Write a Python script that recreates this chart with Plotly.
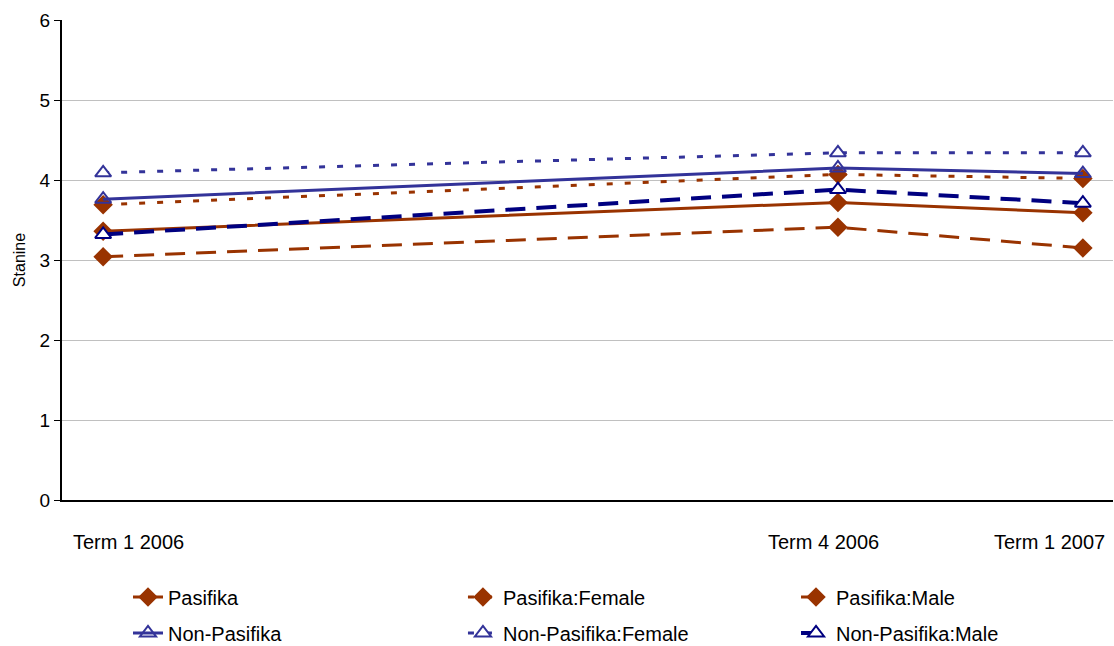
import plotly.graph_objects as go

terms = ["Term 1 2006", "Term 4 2006", "Term 1 2007"]
term_pos = [0, 3, 4]  # terms elapsed since Term 1 2006

pasifika = [3.36, 3.72, 3.59]
pasifika_female = [3.69, 4.07, 4.02]
pasifika_male = [3.04, 3.41, 3.15]
non_pasifika = [3.76, 4.15, 4.08]
non_pasifika_female = [4.09, 4.34, 4.34]
non_pasifika_male = [3.32, 3.88, 3.71]

BROWN = "#993300"
PURPLE = "#333399"
NAVY = "#000080"
FONT = "Liberation Sans, Arial, sans-serif"

fig = go.Figure()

def add(name, vals, color, dash, symbol, width, legend, mfill=None):
    if symbol.startswith("diamond"):
        marker = dict(symbol="diamond", size=15, color=color, line=dict(width=0))
    else:
        marker = dict(symbol=symbol, size=14, color=(mfill if mfill else color),
                      line=dict(width=2, color=color))
    fig.add_trace(go.Scatter(
        x=term_pos, y=vals, name=name, mode="lines+markers",
        line=dict(color=color, width=width, dash=dash),
        marker=marker, legend=legend, showlegend=True))

add("Pasifika", pasifika, BROWN, "solid", "diamond", 3, "legend")
add("Pasifika:Female", pasifika_female, BROWN, "6px,12px", "diamond", 3, "legend2")
add("Pasifika:Male", pasifika_male, BROWN, "20px,11px", "diamond", 3, "legend3")
add("Non-Pasifika", non_pasifika, PURPLE, "solid", "triangle-up-open", 3, "legend4")
add("Non-Pasifika:Female", non_pasifika_female, PURPLE, "6px,12px", "triangle-up", 3, "legend5", "white")
add("Non-Pasifika:Male", non_pasifika_male, NAVY, "20px,11px", "triangle-up", 4, "legend6", "white")

shifts = [25, -14, -33]
for t, p, s in zip(terms, term_pos, shifts):
    fig.add_annotation(x=p, y=0, xref="x", yref="paper", text=t, showarrow=False,
                       xanchor="center", yanchor="middle", yshift=-42, xshift=s,
                       font=dict(family=FONT, size=20, color="black"))

def leg(x, y):
    return dict(x=x, y=y, xref="paper", yref="paper", xanchor="left", yanchor="middle",
                orientation="h", font=dict(family=FONT, size=20, color="black"),
                bgcolor="rgba(0,0,0,0)", borderwidth=0)

cols = [0.0628, 0.3815, 0.6984]
rows = [-0.202, -0.277]

fig.update_layout(
    width=1114, height=646, showlegend=True,
    margin=dict(l=62, r=1, t=20, b=146, autoexpand=False),
    paper_bgcolor="white", plot_bgcolor="white",
    font=dict(family=FONT, color="black"),
    xaxis=dict(range=[-0.168, 4.123], showticklabels=False, showgrid=False,
               zeroline=False, showline=True, linecolor="black", linewidth=2,
               ticks=""),
    yaxis=dict(range=[0, 6], dtick=1, tick0=0, showgrid=True, gridcolor="#c0c0c0",
               gridwidth=1, zeroline=False, showline=True, linecolor="black",
               linewidth=2, ticks="outside", ticklen=6, tickcolor="black",
               tickfont=dict(family=FONT, size=19, color="black"),
               title=dict(text="Stanine", font=dict(family=FONT, size=16, color="black"),
                          standoff=10)),
    legend=leg(cols[0], rows[0]),
    legend2=leg(cols[1], rows[0]),
    legend3=leg(cols[2], rows[0]),
    legend4=leg(cols[0], rows[1]),
    legend5=leg(cols[1], rows[1]),
    legend6=leg(cols[2], rows[1]),
)

fig.write_html("out.html", config={"displayModeBar": False},
               post_script="document.body.style.margin='0';")
